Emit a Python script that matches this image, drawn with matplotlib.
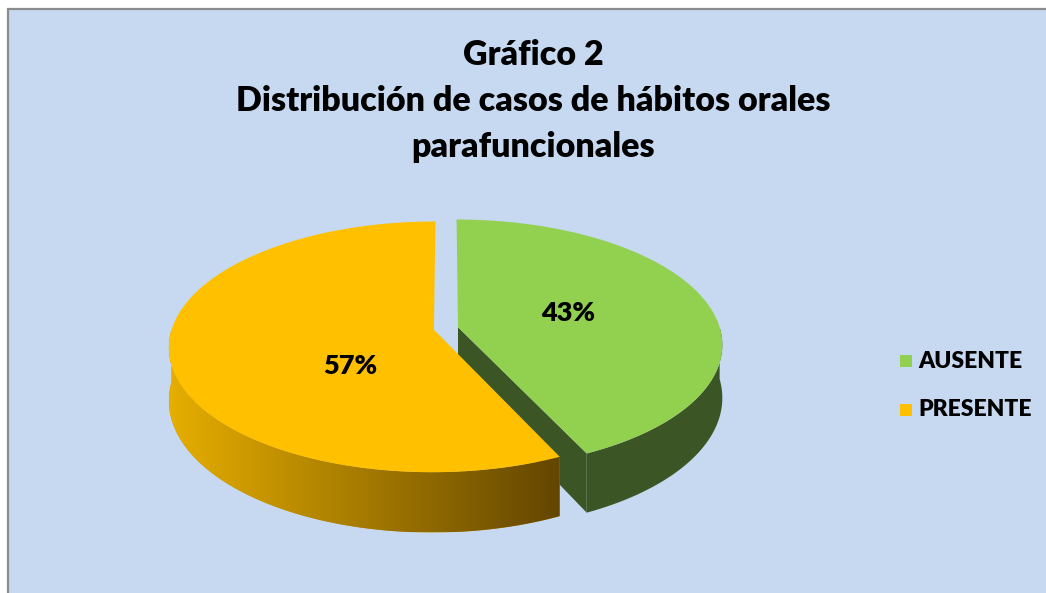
# -*- coding: utf-8 -*-
"""Gráfico 2: pastel 3D (dibujado a mano) de hábitos orales parafuncionales."""
import numpy as np
import matplotlib
matplotlib.use("Agg")
import matplotlib.pyplot as plt
from matplotlib.patches import Polygon, Rectangle
from matplotlib.colors import LinearSegmentedColormap

TITULO = ["Gráfico 2", "Distribución de casos de hábitos orales", "parafuncionales"]
CATEGORIAS = ["AUSENTE", "PRESENTE"]
PORCENTAJES = [43, 57]
COLOR_TAPA = ["#92D050", "#FFC000"]
COLOR_LADO = ["#3B5524", "#C89400"]
DEGRADADO = [None, ("#E6AE00", "#634600")]   # pared curva del amarillo
POS_ETIQUETA = [(568, 313), (350, 366)]      # donde Excel dejó las etiquetas

FONT = "Lato"
PESO = "heavy"
BG = "#C6D9F1"

# geometría del pastel en pixeles (eje y hacia abajo)
CX, CY = 446, 328.5
R, RY = 262, 122.7
PERSP = 0.136      # escala extra del frente (perspectiva)
DEPTH = 52
EXPLODE = 0.047
START = 90.0


def proj(X, Y, H=0.0):
    s = 1.0 / (1.0 + PERSP * Y)
    return CX + R * X * s, CY - (RY * Y + H) * s


def arco(ox, oy, a0, a1, H=0.0, n=200):
    t = np.radians(np.linspace(a0, a1, n))
    x, y = proj(ox + np.cos(t), oy + np.sin(t), H)
    return np.column_stack([x, y])


fig = plt.figure(figsize=(10.46, 5.93), dpi=100)
ax = fig.add_axes([0, 0, 1, 1])
ax.set_xlim(0, 1046)
ax.set_ylim(593, 0)
ax.axis("off")

ax.add_patch(Rectangle((8, 9), 1046, 600, facecolor=BG, edgecolor="#8C8C8C",
                       lw=1.6, zorder=0))

total = float(sum(PORCENTAJES))
cum = 0.0
z = 1
for i, v in enumerate(PORCENTAJES):
    a1 = START - cum / total * 360.0
    a0 = a1 - v / total * 360.0
    cum += v
    b = np.radians((a0 + a1) / 2)
    ox, oy = EXPLODE * np.cos(b), EXPLODE * np.sin(b)
    c_top = proj(ox, oy)
    c_bot = proj(ox, oy, -DEPTH)

    # paredes radiales que miran al frente
    for a, normal in ((a0, a0 - 90), (a1, a1 + 90)):
        if np.sin(np.radians(normal)) < -0.05:
            t = np.radians(a)
            p_top = proj(ox + np.cos(t), oy + np.sin(t))
            p_bot = proj(ox + np.cos(t), oy + np.sin(t), -DEPTH)
            ax.add_patch(Polygon([c_top, p_top, p_bot, c_bot], closed=True,
                                 facecolor=COLOR_LADO[i], edgecolor="none", zorder=z))
            z += 1

    # pared curva (sólo la mitad frontal)
    f0, f1 = max(a0, -180.0), min(a1, 0.0)
    if f1 > f0:
        pts = np.vstack([arco(ox, oy, f0, f1), arco(ox, oy, f1, f0, -DEPTH)])
        pared = Polygon(pts, closed=True, facecolor=COLOR_LADO[i],
                        edgecolor="none", zorder=z)
        ax.add_patch(pared)
        if DEGRADADO[i] is not None:
            cmap = LinearSegmentedColormap.from_list("lado", list(DEGRADADO[i]))
            x0, x1 = pts[:, 0].min(), pts[:, 0].max()
            y0, y1 = pts[:, 1].min(), pts[:, 1].max()
            im = ax.imshow(np.linspace(0, 1, 256)[None, :], cmap=cmap, aspect="auto",
                           extent=(x0, x1, y1, y0), zorder=z + 0.5)
            im.set_clip_path(pared)
        z += 1

    # tapa
    tapa = np.vstack([[c_top], arco(ox, oy, a0, a1)])
    ax.add_patch(Polygon(tapa, closed=True, facecolor=COLOR_TAPA[i],
                         edgecolor="none", zorder=z))
    z += 1

for (x, y), v in zip(POS_ETIQUETA, PORCENTAJES):
    ax.text(x, y, f"{v}%", ha="center", va="center", fontsize=19.5,
            fontweight=PESO, family=FONT, zorder=50)

for k, linea in enumerate(TITULO):
    ax.text(533, 55 + k * 46, linea, ha="center", va="center", fontsize=24.5,
            fontweight=PESO, family=FONT)

for k, (cat, col) in enumerate(zip(CATEGORIAS, COLOR_TAPA)):
    y = 361 + k * 49
    ax.add_patch(Rectangle((900, y - 6), 12, 12, facecolor=col, edgecolor="none"))
    ax.text(918, y, cat, ha="left", va="center", fontsize=16.5,
            fontweight=PESO, family=FONT)

fig.savefig("out.png", dpi=100, facecolor="white")
